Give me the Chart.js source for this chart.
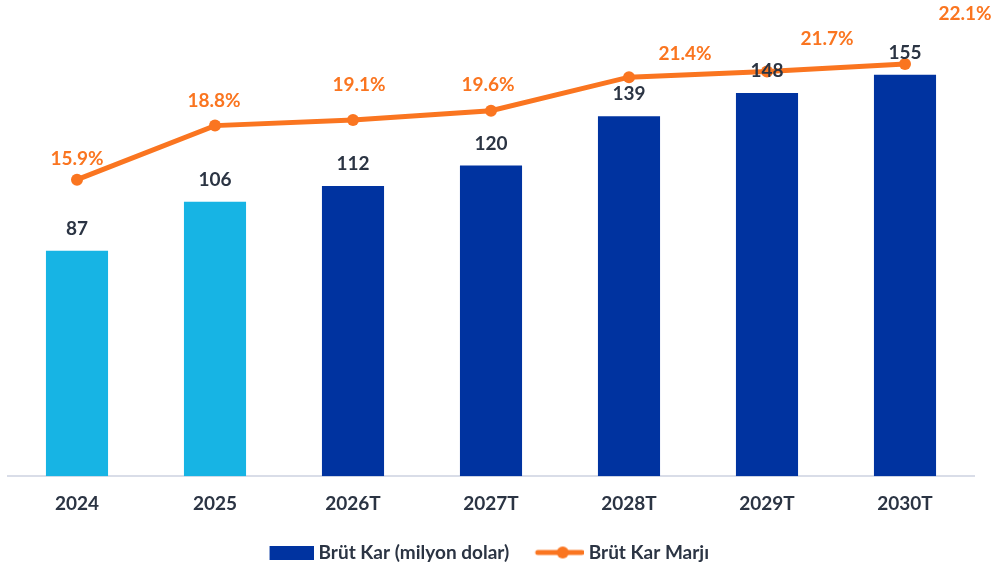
<!DOCTYPE html>
<html>
<head>
<meta charset="utf-8">
<script src="https://cdn.jsdelivr.net/npm/chart.js@4/dist/chart.umd.min.js"></script>
<style>
  html, body { margin: 0; padding: 0; background: #fff; }
  #wrap { width: 996px; height: 572px; }
</style>
</head>
<body>
<div id="wrap"><canvas id="grossChart" width="996" height="572"></canvas></div>
<script>
// data
const years = ['2024', '2025', '2026T', '2027T', '2028T', '2029T', '2030T'];
const grossProfit = [87, 106, 112, 120, 139, 148, 155];
const grossMargin = [15.9, 18.8, 19.1, 19.6, 21.4, 21.7, 22.1];

const navy = '#0033a0';
const lightBlue = '#17b4e4';
const orange = '#fa7520';
const textDark = '#2b3443';
const fontFamily = 'Lato, "Open Sans", sans-serif';

// actual years light blue, forecasts navy
const barColors = years.map(y => y.endsWith('T') ? navy : lightBlue);

// label offsets for margin labels (px, relative to point)
const marginLabelShift = [[0, -21], [-1, -25], [6, -35], [-3, -26], [56, -23], [60, -33], [60, -50]];

// legend swatches (wide transparent canvas so the gaps match)
function barSwatch() {
  const c = document.createElement('canvas');
  c.width = 69; c.height = 14;
  const g = c.getContext('2d');
  g.fillStyle = navy;
  g.fillRect(25, 0, 44, 14);
  return c;
}
function lineSwatch() {
  const c = document.createElement('canvas');
  c.width = 69; c.height = 14;
  const g = c.getContext('2d');
  g.strokeStyle = orange;
  g.lineWidth = 5;
  g.lineCap = 'round';
  g.beginPath(); g.moveTo(23, 7); g.lineTo(67, 7); g.stroke();
  g.fillStyle = orange;
  g.beginPath(); g.arc(48, 7, 6, 0, Math.PI * 2); g.fill();
  return c;
}

const valueLabels = {
  id: 'valueLabels',
  afterLayout(chart) {
    // nudge legend a bit left, like the original
    chart.legend.left -= 12;
    chart.legend.right -= 12;
  },
  afterDatasetsDraw(chart) {
    const ctx = chart.ctx;
    ctx.save();
    ctx.textAlign = 'center';
    ctx.textBaseline = 'middle';
    ctx.font = 'bold 19px ' + fontFamily;

    chart.getDatasetMeta(1).data.forEach((bar, i) => {
      ctx.fillStyle = textDark;
      ctx.fillText(grossProfit[i], bar.x, bar.y - 22);
    });
    chart.getDatasetMeta(0).data.forEach((pt, i) => {
      ctx.fillStyle = orange;
      const s = marginLabelShift[i];
      ctx.fillText(grossMargin[i].toFixed(1) + '%', pt.x + s[0], pt.y + s[1]);
    });
    ctx.restore();
  }
};

const ctx = document.getElementById('grossChart').getContext('2d');
new Chart(ctx, {
  data: {
    labels: years,
    datasets: [{
      type: 'line',
      label: 'Brüt Kar Marjı',
      data: grossMargin,
      yAxisID: 'yMargin',
      borderColor: orange,
      backgroundColor: orange,
      borderWidth: 5,
      pointRadius: 6,
      pointBackgroundColor: orange,
      pointBorderWidth: 0,
      pointStyle: 'circle',
      tension: 0,
      order: 0
    }, {
      type: 'bar',
      label: 'Brüt Kar (milyon dolar)',
      data: grossProfit,
      yAxisID: 'yProfit',
      backgroundColor: barColors,
      categoryPercentage: 1,
      barPercentage: 0.45,
      order: 1
    }]
  },
  options: {
    responsive: false,
    animation: false,
    layout: { padding: { top: 10, left: 8, right: 22, bottom: 0 } },
    scales: {
      x: {
        grid: { display: false, drawTicks: false },
        border: { display: true, color: '#d9dde8', width: 2 },
        ticks: {
          color: textDark,
          padding: 16,
          font: { family: fontFamily, size: 19, weight: 'bold' }
        },
        afterFit(scale) { scale.height += 2; }
      },
      yProfit: { display: false, min: 0, max: 180 },
      yMargin: { display: false, min: 0, max: 25 }
    },
    plugins: {
      tooltip: { enabled: false },
      legend: {
        position: 'bottom',
        labels: {
          usePointStyle: true,
          pointStyleWidth: 60,
          color: textDark,
          padding: 10,
          font: { family: fontFamily, size: 19, weight: 'bold' },
          generateLabels(chart) {
            return [
              { text: 'Brüt Kar (milyon dolar)', pointStyle: barSwatch(), fontColor: textDark, datasetIndex: 1, lineWidth: 0, strokeStyle: 'transparent', fillStyle: navy },
              { text: 'Brüt Kar Marjı', pointStyle: lineSwatch(), fontColor: textDark, datasetIndex: 0, lineWidth: 0, strokeStyle: 'transparent', fillStyle: orange }
            ];
          }
        }
      }
    }
  },
  plugins: [valueLabels]
});
</script>
</body>
</html>
